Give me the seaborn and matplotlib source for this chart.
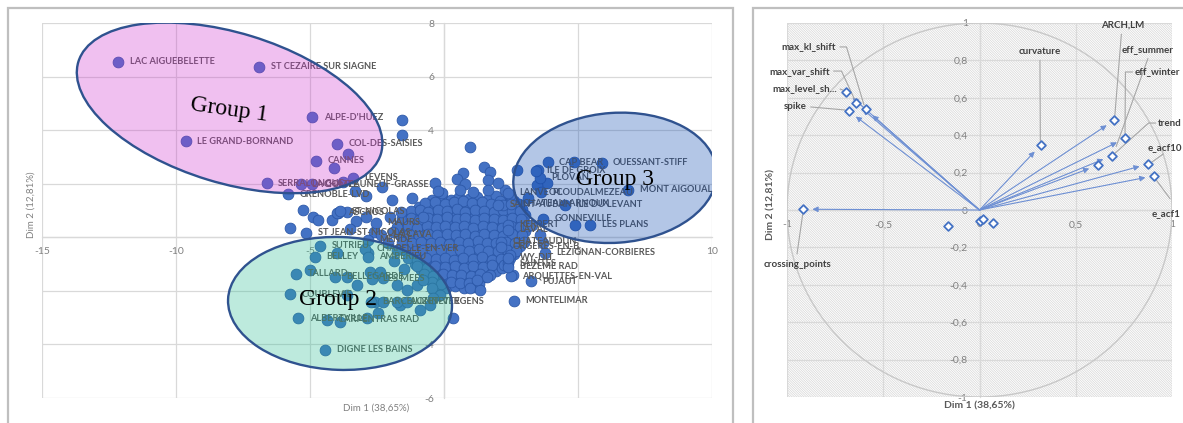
import matplotlib
matplotlib.use("Agg")
import matplotlib.pyplot as plt
from matplotlib.patches import Ellipse, Circle, Rectangle
from matplotlib.ticker import FuncFormatter
import pandas as pd
import seaborn as sns

sns.set_theme(style="white")
plt.rcParams["font.family"] = ["Lato", "DejaVu Sans"]
plt.rcParams["hatch.linewidth"] = 0.5

# ---------------------------------------------------------------- data
# Individuals map: named stations (coordinates on Dim 1 / Dim 2)
station_names = [
    "LAC AIGUEBELETTE", "ST CEZAIRE SUR SIAGNE", "ALPE-D'HUEZ", "LE GRAND-BORNAND",
    "COL-DES-SAISIES", "CANNES", "SERRALONGUE", "LA COMTE", "CHATEAUNEUF-GRASSE",
    "GRENOBLE-LVD", "LEVENS", "ASCROS", "ST-NICOLAS", "ST JEAN-ST-NICOLAS", "MAURS",
    "LA CAVA", "MENDE", "CHAPELLE-EN-VER", "AMBERIEU", "SUTRIEU", "BELLEY", "TALLARD",
    "BELLEGARDE", "LES MEES", "COUBLEVIE", "BARCELONNETTE", "AUZET-VERGENS",
    "ALBERTVILLE", "CARPENTRAS RAD", "DIGNE LES BAINS", "MONTELIMAR", "PUJAUT",
    "ARQUETTES-EN-VAL", "SAINTES", "BEZEME RAD", "WY-DIT", "CHATEAUDUN",
    "ORGERES-EN-B", "LEZIGNAN-CORBIERES", "KERPERT", "LAVAL", "GONNEVILLE",
    "LES PLANS", "SAINT-AUBAN", "CHATEAU-ARNOUX", "ILE DU LEVANT", "LANVEOC",
    "PLOUDALMEZEAU", "PLOVAN", "ILE DE GROIX", "CAP BEAR", "OUESSANT-STIFF",
    "MONT AIGOUAL",
]
station_dim1 = [
    -12.15, -6.90, -4.91, -9.63,
    -3.98, -4.76, -6.62, -5.35, -4.93,
    -5.82, -3.40, -4.00, -3.88, -5.15, -2.54,
    -2.35, -2.84, -2.95, -2.84, -4.63, -4.81, -5.52,
    -4.07, -2.69, -5.75, -2.72, -1.75,
    -5.44, -4.37, -4.44, 2.62, 3.25,
    2.50, 2.39, 2.39, 2.39, 2.13,
    2.13, 3.77, 2.39, 2.39, 3.69,
    5.45, 2.01, 2.50, 4.51, 2.39,
    3.62, 3.58, 3.43, 3.87, 5.88,
    6.88,
]
station_dim2 = [
    6.56, 6.36, 4.49, 3.59,
    3.50, 2.85, 2.02, 1.98, 1.98,
    1.60, 2.22, 0.92, 0.98, 0.17, 0.54,
    0.10, -0.10, -0.43, -0.73, -0.32, -0.72, -1.37,
    -1.47, -1.55, -2.12, -2.41, -2.41,
    -3.02, -3.08, -4.20, -2.37, -1.65,
    -1.44, -0.96, -1.10, -0.77, -0.17,
    -0.36, -0.58, 0.46, 0.28, 0.69,
    0.46, 1.21, 1.25, 1.21, 1.66,
    1.69, 2.22, 2.48, 2.80, 2.78,
    1.77,
]

# Unlabelled stations, dense central cloud
core_dim1 = [
    -0.45, -0.08, 0.27, 0.55, 0.92, 1.24, 1.62, 1.93, 2.31, 2.63,
    -0.92, -0.53, -0.21, 0.16, 0.48, 0.87, 1.18, 1.57, 1.88, 2.27, 2.58, 2.91,
    -1.47, -1.08, -0.77, -0.38, -0.06, 0.32, 0.63, 1.02, 1.33, 1.72, 2.03, 2.42, 2.73, 3.02,
    -1.62, -1.23, -0.92, -0.53, -0.22, 0.17, 0.48, 0.87, 1.18, 1.57, 1.88, 2.27, 2.58, 2.93,
    -1.52, -1.13, -0.82, -0.43, -0.12, 0.27, 0.58, 0.97, 1.28, 1.67, 1.98, 2.37, 2.68, 3.02,
    -1.38, -1.07, -0.68, -0.37, 0.02, 0.33, 0.72, 1.03, 1.42, 1.73, 2.12, 2.43, 2.82,
    -1.33, -0.98, -0.67, -0.28, 0.03, 0.42, 0.73, 1.12, 1.43, 1.82, 2.13, 2.52, 2.83,
    -1.22, -0.83, -0.52, -0.13, 0.18, 0.57, 0.88, 1.27, 1.58, 1.97, 2.28, 2.62,
    -1.08, -0.77, -0.38, -0.07, 0.32, 0.63, 1.02, 1.33, 1.72, 2.03, 2.37,
    -0.87, -0.48, -0.17, 0.22, 0.53, 0.92, 1.23, 1.62, 1.93,
    -0.62, -0.23, 0.08, 0.47, 0.78, 1.17, 1.48,
    -0.28, 0.07, 0.42, 0.73, 1.12,
]
core_dim2 = [
    1.41, 1.50, 1.38, 1.52, 1.43, 1.49, 1.40, 1.53, 1.44, 1.36,
    1.12, 1.19, 1.10, 1.21, 1.13, 1.08, 1.20, 1.11, 1.18, 1.09, 1.16, 1.07,
    0.82, 0.89, 0.80, 0.88, 0.83, 0.91, 0.81, 0.87, 0.79, 0.90, 0.84, 0.81, 0.89, 0.83,
    0.52, 0.59, 0.50, 0.57, 0.53, 0.49, 0.60, 0.54, 0.51, 0.58, 0.50, 0.56, 0.52, 0.59,
    0.28, 0.21, 0.30, 0.22, 0.27, 0.19, 0.26, 0.23, 0.31, 0.20, 0.28, 0.22, 0.29, 0.24,
    -0.02, -0.09, -0.01, -0.08, -0.04, 0.01, -0.07, -0.03, -0.10, -0.02, -0.06, 0.00, -0.08,
    -0.38, -0.31, -0.39, -0.33, -0.40, -0.32, -0.37, -0.30, -0.36, -0.41, -0.34, -0.38, -0.31,
    -0.62, -0.69, -0.61, -0.67, -0.63, -0.70, -0.60, -0.66, -0.71, -0.62, -0.68, -0.64,
    -0.98, -0.91, -0.99, -0.93, -0.90, -0.97, -0.92, -1.00, -0.94, -0.99, -0.91,
    -1.22, -1.29, -1.21, -1.28, -1.20, -1.27, -1.23, -1.30, -1.24,
    -1.52, -1.58, -1.51, -1.59, -1.53, -1.57, -1.50,
    -1.82, -1.88, -1.81, -1.89, -1.84,
]

# More unlabelled stations packed between the rows of the cloud
fill_dim1 = [
    -0.70, -0.35, 0.05, 0.38, 0.72, 1.05, 1.40, 1.75, 2.10, 2.45, 2.78,
    -1.25, -0.90, -0.58, -0.22, 0.12, 0.47, 0.80, 1.15, 1.50, 1.85, 2.20, 2.55, 2.85,
    -1.55, -1.25, -0.92, -0.58, -0.25, 0.12, 0.47, 0.80, 1.15, 1.50, 1.85, 2.20, 2.55, 2.88,
    -1.70, -1.35, -1.00, -0.65, -0.30, 0.05, 0.40, 0.75, 1.10, 1.45, 1.80, 2.15, 2.50, 2.85, 3.15,
    -1.65, -1.30, -0.95, -0.60, -0.25, 0.10, 0.45, 0.80, 1.15, 1.50, 1.85, 2.20, 2.55, 2.90,
    -1.55, -1.20, -0.85, -0.50, -0.15, 0.20, 0.55, 0.90, 1.25, 1.60, 1.95, 2.30, 2.65, 2.98,
    -1.45, -1.10, -0.80, -0.45, -0.10, 0.25, 0.60, 0.95, 1.30, 1.65, 2.00, 2.35, 2.70,
    -1.35, -1.00, -0.68, -0.30, 0.02, 0.38, 0.72, 1.08, 1.42, 1.78, 2.12, 2.48,
    -1.00, -0.65, -0.32, 0.05, 0.40, 0.75, 1.10, 1.45, 1.80, 2.15,
    -0.75, -0.40, -0.05, 0.30, 0.65, 1.00, 1.35, 1.70,
    -0.45, -0.10, 0.25, 0.60, 0.95, 1.30,
]
fill_dim2 = [
    1.28, 1.33, 1.26, 1.31, 1.35, 1.27, 1.32, 1.25, 1.34, 1.29, 1.24,
    0.98, 1.03, 0.95, 1.01, 0.97, 1.04, 0.96, 1.02, 0.99, 0.94, 1.03, 0.97, 1.00,
    0.68, 0.73, 0.66, 0.72, 0.69, 0.74, 0.67, 0.71, 0.65, 0.73, 0.70, 0.66, 0.72, 0.68,
    0.38, 0.43, 0.36, 0.42, 0.39, 0.44, 0.37, 0.41, 0.35, 0.43, 0.40, 0.36, 0.42, 0.38, 0.41,
    0.08, 0.13, 0.06, 0.12, 0.09, 0.14, 0.07, 0.11, 0.05, 0.13, 0.10, 0.06, 0.12, 0.08,
    -0.18, -0.23, -0.16, -0.22, -0.19, -0.24, -0.17, -0.21, -0.15, -0.23, -0.20, -0.16, -0.22, -0.18,
    -0.48, -0.53, -0.46, -0.52, -0.49, -0.54, -0.47, -0.51, -0.45, -0.53, -0.50, -0.46, -0.52,
    -0.78, -0.83, -0.76, -0.82, -0.79, -0.84, -0.77, -0.81, -0.75, -0.83, -0.80, -0.76,
    -1.08, -1.13, -1.06, -1.12, -1.09, -1.14, -1.07, -1.11, -1.05, -1.13,
    -1.38, -1.43, -1.36, -1.42, -1.39, -1.44, -1.37, -1.41,
    -1.68, -1.73, -1.66, -1.72, -1.69, -1.74,
]

# Unlabelled stations scattered around the cloud
scatter_dim1 = [
    -1.58, -1.58, -3.57, -4.09, 0.97, -3.32, -2.32, -1.95, -3.76, -2.90,
    -0.34, -0.09, -5.25, -4.88, -4.69, -4.19, -3.94, -3.63, -5.75, -3.30,
    -2.90, -2.01, -1.76, -0.77, -1.60, -2.60, -3.50, -4.00, -2.82, -1.76,
    -5.00, -3.63, -3.26, -2.76, -2.39, -2.27, -1.76, -1.39, -1.01, -0.77,
    -0.46, -0.15, -3.63, -2.57, -2.26, -1.64, -1.39, -0.89, -0.52, -0.40,
    -3.88, -2.88, -2.45, 0.32, 0.97, 1.34, 1.59, 1.22, 2.59, 2.24,
    2.46, 3.71, 3.58, 3.27, 4.85, 3.51, 2.71, 3.83, 3.46, 3.15,
    2.46, 2.28, 4.89, 1.49, 1.71, 0.72, 0.47, 0.78, 1.65, 2.02,
    1.65, 0.60, 1.10, 2.21, -0.22, -1.20, -1.90, -2.10, -1.85, -1.50,
]
scatter_dim2 = [
    4.38, 3.82, 3.11, 2.58, 3.38, 1.71, 1.89, 1.40, 2.08, 1.55,
    2.02, 1.67, 1.02, 0.77, 0.65, 0.65, 0.90, 0.95, 0.34, 0.60,
    0.75, 0.77, 0.40, 0.77, 0.95, 0.20, 0.30, -0.59, -0.59, -0.47,
    -1.22, -1.47, -1.78, -1.28, -1.28, -1.52, -1.77, -1.97, -1.77, -1.59,
    -1.89, -2.14, -2.16, -2.40, -2.40, -2.52, -2.40, -2.71, -2.52, -2.27,
    -3.15, -3.02, -2.83, -3.00, -1.90, -1.96, -1.47, -1.59, -1.40, -1.04,
    -0.66, -0.22, 0.09, 0.46, 2.81, 2.51, 2.51, 2.02, 1.96, 1.46,
    1.58, 1.77, 0.46, 2.64, 2.45, 2.39, 2.17, 1.98, 2.14, 2.02,
    1.78, 1.76, 1.70, 1.21, 1.72, 1.45, 0.20, -0.20, -0.90, -1.20,
]

# Correlation circle: variables and their correlations with Dim 1 / Dim 2
variable_names = [
    "max_level_shift", "max_var_shift", "max_kl_shift", "spike", "curvature",
    "ARCH.LM", "eff_winter", "eff_summer", "trend", "e_acf10", "e_acf1",
    "crossing_points", "lumpiness", "stability", "hurst", "nonlinearity",
]
variable_labels = [
    "max_level_sh...", "max_var_shift", "max_kl_shift", "spike", "curvature",
    "ARCH,LM", "eff_winter", "eff_summer", "trend", "e_acf10", "e_acf1",
    "crossing_points", "", "", "", "",
]
corr_dim1 = [-0.695, -0.642, -0.591, -0.680, 0.319, 0.700, 0.756, 0.687, 0.614,
             0.877, 0.908, -0.915, -0.162, 0.003, 0.020, 0.072]
corr_dim2 = [0.633, 0.571, 0.538, 0.529, 0.348, 0.480, 0.383, 0.290, 0.239,
             0.246, 0.183, 0.004, -0.086, -0.059, -0.050, -0.071]

left_xticks = [-15, -10, -5, 0, 5, 10]
left_yticks = [-6, -4, -2, 0, 2, 4, 6, 8]
right_xticks = [-1, -0.5, 0, 0.5, 1]
right_yticks = [-1, -0.8, -0.6, -0.4, -0.2, 0, 0.2, 0.4, 0.6, 0.8, 1]
axis1_title = "Dim 1 (38,65%)"
axis2_title = "Dim 2 (12,81%)"

assert len(core_dim1) == len(core_dim2)
assert len(fill_dim1) == len(fill_dim2)
assert len(scatter_dim1) == len(scatter_dim2)
assert len(station_names) == len(station_dim1) == len(station_dim2)

stations = pd.concat([
    pd.DataFrame({"dim1": core_dim1, "dim2": core_dim2}),
    pd.DataFrame({"dim1": fill_dim1, "dim2": fill_dim2}),
    pd.DataFrame({"dim1": scatter_dim1, "dim2": scatter_dim2}),
    pd.DataFrame({"dim1": station_dim1, "dim2": station_dim2}),
], ignore_index=True)
variables = pd.DataFrame({"name": variable_names, "label": variable_labels,
                          "dim1": corr_dim1, "dim2": corr_dim2})

# ---------------------------------------------------------------- figure
W, H = 1183, 423
fig = plt.figure(figsize=(W / 100, H / 100), dpi=100)
fig.patch.set_facecolor("white")


def box(left, top, right, bottom):
    return [left / W, 1 - bottom / H, (right - left) / W, (bottom - top) / H]


def comma(v, pos=None):
    return f"{round(v, 2):g}".replace(".", ",")


# chart frames
for l, r in [(8, 733), (753, 1240)]:
    fig.add_artist(Rectangle((l / W, -0.1), (r - l) / W, 1.1 - 8 / H,
                             transform=fig.transFigure, fill=False,
                             edgecolor="#bfbfbf", linewidth=1.6))

GRID = "#d9d9d9"
TICK = "#808080"


def style_axes(ax, xt, yt, pad_x, pad_y):
    ax.set_xticks(xt)
    ax.set_yticks(yt)
    ax.xaxis.set_major_formatter(FuncFormatter(comma))
    ax.yaxis.set_major_formatter(FuncFormatter(comma))
    ax.grid(True, color=GRID, linewidth=0.9)
    ax.set_axisbelow(True)
    for s in ["top", "right"]:
        ax.spines[s].set_visible(False)
    for s in ["left", "bottom"]:
        ax.spines[s].set_position(("data", 0))
        ax.spines[s].set_color(GRID)
        ax.spines[s].set_linewidth(0.9)
        ax.spines[s].set_zorder(0.6)
    ax.tick_params(length=0, labelsize=7.5, labelcolor=TICK)
    ax.tick_params(axis="x", pad=pad_x)
    ax.tick_params(axis="y", pad=pad_y)
    ax.set_xlabel("")
    ax.set_ylabel("")


# ------------------------------------------------ individuals map (left)
axL = fig.add_axes(box(42, 23, 712, 398))
axL.set_facecolor("white")
sns.scatterplot(data=stations, x="dim1", y="dim2", ax=axL, s=60,
                color="#4472C4", edgecolor="#2c58a8", linewidth=0.6,
                zorder=3, legend=False)
axL.set_xlim(-15, 10)
axL.set_ylim(-6, 8)
style_axes(axL, left_xticks, left_yticks, 7, 7)

for name, x, y in zip(station_names, station_dim1, station_dim2):
    axL.annotate(name, (x, y), xytext=(8.3, 0), textcoords="offset points",
                 ha="left", va="center", fontsize=6.7, fontweight="bold",
                 color="#595959", zorder=4)

groups = [
    dict(center=(-8.0, 4.83), w=11.8, h=5.6, angle=-17, face="#CE30CE",
         text="Group 1", tpos=(-8.0, 4.75), rot=-8),
    dict(center=(-3.88, -2.47), w=8.36, h=4.96, angle=-2, face="#26BC91",
         text="Group 2", tpos=(-3.96, -2.34), rot=0),
    dict(center=(6.38, 2.22), w=7.6, h=4.85, angle=4, face="#0544AF",
         text="Group 3", tpos=(6.38, 2.14), rot=0),
]
for g in groups:
    axL.add_patch(Ellipse(g["center"], g["w"], g["h"], angle=g["angle"],
                          facecolor=g["face"], alpha=0.3, edgecolor="none",
                          zorder=5))
    axL.add_patch(Ellipse(g["center"], g["w"], g["h"], angle=g["angle"],
                          facecolor="none", edgecolor="#2F528F",
                          linewidth=1.7, zorder=6))
    axL.text(*g["tpos"], g["text"], ha="center", va="center",
             rotation=g["rot"], fontsize=17, color="black",
             family="Liberation Serif", zorder=7)

fig.text(376 / W, 1 - 408 / H, axis1_title, ha="center", va="center",
         fontsize=7, color=TICK)
fig.text(31 / W, 1 - 205 / H, axis2_title, ha="center", va="center",
         rotation=90, fontsize=7, color=TICK)

# ------------------------------------------ correlation circle (right)
axR = fig.add_axes(box(787, 23, 1172, 397))
axR.set_facecolor("white")
axR.set_xlim(-1, 1)
axR.set_ylim(-1, 1)
axR.add_patch(Rectangle((-1, -1), 2, 2, facecolor="white",
                        edgecolor="#d6d6d6", hatch="\\" * 14,
                        linewidth=0, zorder=0.2))
style_axes(axR, right_xticks, right_yticks, 7.5, 8.5)
axR.add_patch(Circle((0, 0), 1, fill=False, edgecolor="#c8c8c8",
                     linewidth=1.0, zorder=1))

for _, v in variables.iterrows():
    if (v.dim1 ** 2 + v.dim2 ** 2) ** 0.5 > 0.25:
        axR.annotate("", xy=(v.dim1, v.dim2), xytext=(0, 0),
                     arrowprops=dict(arrowstyle="-|>", color="#6d8fd3",
                                     lw=0.8, shrinkA=0, shrinkB=6.5,
                                     mutation_scale=8), zorder=2)

sns.scatterplot(data=variables, x="dim1", y="dim2", ax=axR, marker="D",
                s=20, color="white", edgecolor="#4472C4", linewidth=1.3,
                zorder=4, legend=False)
axR.set_xlabel("")
axR.set_ylabel("")

# label placement and leader lines for the variables
label_layout = {
    "max_level_shift": dict(pos=(-0.740, 0.647), ha="right",
                            path=[(-0.724, 0.647), (-0.697, 0.636)]),
    "max_var_shift": dict(pos=(-0.777, 0.743), ha="right",
                          path=[(-0.758, 0.743), (-0.717, 0.743), (-0.650, 0.594)]),
    "max_kl_shift": dict(pos=(-0.745, 0.872), ha="right",
                         path=[(-0.725, 0.872), (-0.691, 0.872), (-0.600, 0.562)]),
    "spike": dict(pos=(-0.896, 0.551), ha="right",
                  path=[(-0.877, 0.551), (-0.700, 0.535)]),
    "curvature": dict(pos=(0.314, 0.845), ha="center",
                      path=[(0.314, 0.800), (0.316, 0.370)]),
    "ARCH.LM": dict(pos=(0.745, 0.989), ha="center",
                    path=[(0.737, 0.940), (0.703, 0.505)]),
    "eff_summer": dict(pos=(0.875, 0.856), ha="center",
                       path=[(0.875, 0.810), (0.710, 0.340)]),
    "eff_winter": dict(pos=(0.808, 0.738), ha="left",
                       path=[(0.795, 0.738), (0.758, 0.738), (0.756, 0.410)]),
    "trend": dict(pos=(0.927, 0.465), ha="left",
                  path=[(0.915, 0.465), (0.878, 0.465), (0.700, 0.300)]),
    "e_acf10": dict(pos=(0.875, 0.332), ha="left",
                    path=[(0.955, 0.300), (0.895, 0.256)]),
    "e_acf1": dict(pos=(0.896, -0.021), ha="left",
                   path=[(0.915, 0.165), (0.990, 0.060)]),
    "crossing_points": dict(pos=(-0.948, -0.289), ha="center",
                            path=[(-0.948, -0.235), (-0.918, -0.020)]),
}
for _, v in variables.iterrows():
    lay = label_layout.get(v["name"])
    if lay is None or not v["label"]:
        continue
    xs, ys = zip(*lay["path"])
    axR.plot(xs, ys, color="#a6a6a6", linewidth=0.8, zorder=3)
    axR.text(*lay["pos"], v["label"], ha=lay["ha"], va="center",
             fontsize=7, fontweight="bold", color="#404040", zorder=5,
             clip_on=False)

fig.text(979 / W, 1 - 406 / H, axis1_title, ha="center", va="center",
         fontsize=7.5, fontweight="bold", color="#595959")
fig.text(771 / W, 1 - 205 / H, axis2_title, ha="center", va="center",
         rotation=90, fontsize=7.5, fontweight="bold", color="#595959")

fig.savefig("out.png", dpi=100, facecolor="white")
